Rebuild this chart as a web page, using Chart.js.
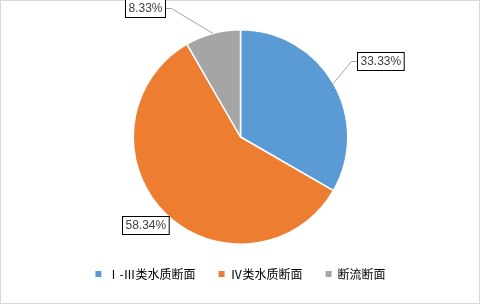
<!DOCTYPE html>
<html>
<head>
<meta charset="utf-8">
<script src="https://cdn.jsdelivr.net/npm/chart.js@4"></script>
<style>
  body { margin: 0; background: #fff; }
  canvas { display: block; }
</style>
</head>
<body>
<canvas id="pie-chart" width="481" height="305"></canvas>
<script>
const categories = ['Ⅰ-Ⅲ类水质断面', 'Ⅳ类水质断面', '断流断面'];
const shares = [33.33, 58.34, 8.33];
const sliceColors = ['#5B9BD5', '#ED7D31', '#A5A5A5'];

// label box placement relative to the outer point at each slice's middle angle
const labelOffsets = [
  { dx: 47, dy: -22, leader: true },
  { dx: -19, dy: 12, leader: false },
  { dx: -68, dy: -25, leader: true }
];

const frame = {
  id: 'frame',
  beforeDraw(chart) {
    const ctx = chart.ctx;
    ctx.save();
    ctx.fillStyle = '#fff';
    ctx.fillRect(0, 0, chart.width, chart.height);
    ctx.strokeStyle = '#D9D9D9';
    ctx.lineWidth = 1;
    ctx.strokeRect(0.5, 0.5, chart.width - 2, chart.height - 2);
    ctx.restore();
  }
};

const calloutLabels = {
  id: 'calloutLabels',
  afterDatasetsDraw(chart) {
    const ctx = chart.ctx;
    const arcs = chart.getDatasetMeta(0).data;
    ctx.save();
    ctx.font = '12px "Liberation Sans", Arial, sans-serif';
    ctx.textAlign = 'center';
    ctx.textBaseline = 'middle';
    arcs.forEach((arc, i) => {
      const mid = (arc.startAngle + arc.endAngle) / 2;
      const ax = arc.x + Math.cos(mid) * arc.outerRadius;
      const ay = arc.y + Math.sin(mid) * arc.outerRadius;
      const off = labelOffsets[i];
      const cx = ax + off.dx;
      const cy = ay + off.dy;
      const text = shares[i].toFixed(2) + '%';
      const w = ctx.measureText(text).width + 6;
      const h = 18;
      const left = Math.round(cx - w / 2) + 0.5;
      const top = Math.round(cy - h / 2) + 0.5;

      if (off.leader) {
        const edgeX = off.dx > 0 ? left : left + w;
        const elbowX = off.dx > 0 ? edgeX - 6 : edgeX + 6;
        ctx.strokeStyle = '#A6A6A6';
        ctx.lineWidth = 1;
        ctx.beginPath();
        ctx.moveTo(ax, ay);
        ctx.lineTo(elbowX, top + h / 2);
        ctx.lineTo(edgeX, top + h / 2);
        ctx.stroke();
      }

      ctx.fillStyle = '#fff';
      ctx.fillRect(left, top, w, h);
      ctx.strokeStyle = '#000';
      ctx.lineWidth = 1;
      ctx.strokeRect(left, top, w, h);
      ctx.fillStyle = '#404040';
      ctx.fillText(text, left + w / 2, top + h / 2 + 0.5);
    });
    ctx.restore();
  }
};

new Chart(document.getElementById('pie-chart').getContext('2d'), {
  type: 'pie',
  data: {
    labels: categories,
    datasets: [{
      data: shares,
      backgroundColor: sliceColors,
      borderColor: '#fff',
      borderWidth: 1.5
    }]
  },
  options: {
    responsive: false,
    animation: false,
    layout: {
      padding: { top: 29, bottom: 15, left: 0, right: 0 }
    },
    plugins: {
      tooltip: { enabled: false },
      legend: {
        position: 'bottom',
        labels: {
          boxWidth: 6,
          boxHeight: 6,
          padding: 23,
          color: '#595959',
          font: { size: 12, family: '"Noto Sans CJK SC", sans-serif' },
          generateLabels(chart) {
            return categories.map((name, i) => ({
              text: name,
              fillStyle: sliceColors[i],
              strokeStyle: sliceColors[i],
              lineWidth: 0,
              hidden: false,
              index: i
            }));
          }
        }
      }
    }
  },
  plugins: [frame, calloutLabels]
});
</script>
</body>
</html>
